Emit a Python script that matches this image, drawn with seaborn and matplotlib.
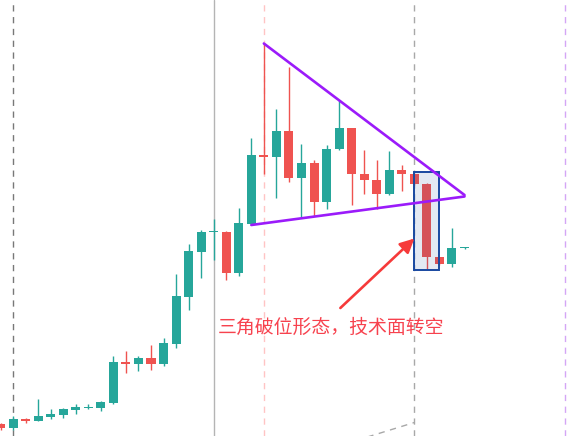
# Candlestick chart: triangle breakdown annotation
import matplotlib
matplotlib.use("Agg")
import matplotlib.pyplot as plt
from matplotlib.patches import Rectangle
import seaborn as sns
import pandas as pd

# -------------------------------------------------------
# DATA
# -------------------------------------------------------
opens = [10.25, 10.17, 10.34, 10.30, 10.38, 10.42, 10.52, 10.56, 10.56, 10.66,
         11.48, 11.45, 11.56, 11.45, 11.85, 12.79, 13.67, 14.07, 14.09, 13.27,
         14.24, 15.62, 15.57, 16.10, 15.15, 15.46, 14.67, 15.73, 16.16, 15.24,
         15.12, 14.83, 15.32, 15.24, 15.04, 13.58, 13.43, 13.75]
highs = [10.27, 10.40, 10.36, 10.74, 10.54, 10.56, 10.64, 10.64, 10.70, 11.60,
         11.70, 11.60, 11.82, 11.96, 13.24, 13.84, 14.12, 14.34, 14.11, 14.56,
         15.96, 17.85, 16.54, 17.38, 15.84, 15.52, 15.82, 16.72, 16.16, 15.72,
         15.52, 15.70, 15.42, 15.24, 15.07, 13.58, 14.16, 13.78]
lows = [10.12, 10.12, 10.27, 10.30, 10.34, 10.36, 10.44, 10.54, 10.50, 10.64,
        11.26, 11.30, 11.32, 11.40, 11.76, 12.52, 13.16, 13.52, 13.12, 13.20,
        14.24, 15.25, 14.77, 15.09, 14.37, 14.41, 14.55, 15.73, 14.63, 14.85,
        14.55, 14.83, 14.91, 15.03, 13.35, 13.43, 13.39, 13.75]
closes = [10.17, 10.34, 10.30, 10.40, 10.45, 10.54, 10.58, 10.58, 10.68, 11.48,
          11.45, 11.56, 11.45, 11.86, 12.80, 13.70, 14.08, 14.08, 13.27, 14.26,
          15.62, 15.57, 16.10, 15.15, 15.46, 14.67, 15.74, 16.16, 15.23, 15.11,
          14.83, 15.32, 15.23, 15.03, 13.57, 13.43, 13.76, 13.76]

# triangle trend lines (bar index, price)
upper_x = [21, 37]
upper_y = [17.85, 14.82]
lower_x = [20, 37]
lower_y = [14.22, 14.79]

# lower dashed trend line (mostly off-screen)
base_x = [29.0, 33.0]
base_y = [9.96, 10.27]

# highlighted breakdown zone
zone_x = [33, 35]
zone_y = [13.31, 15.29]

# arrow (tail -> head) and note
arrow_tail = (27.1, 12.56)
arrow_head = (33.0, 13.95)
note_text = "三角破位形态，技术面转空"
note_pos = (17.35, 12.17)

# vertical marker lines (bar index)
vline_idx = [1, 17, 21, 33, 45]

UP = "#26A69A"
DOWN = "#EF5350"

df = pd.DataFrame({"open": opens, "high": highs, "low": lows, "close": closes})
df["idx"] = range(len(df))
df["color"] = [UP if c >= o else DOWN for o, c in zip(df["open"], df["close"])]

# -------------------------------------------------------
# PLOT
# -------------------------------------------------------
sns.set_theme(style="white")
plt.rcParams["font.family"] = ["Noto Sans CJK SC", "DejaVu Sans"]

fig = plt.figure(figsize=(5.76, 4.36), dpi=100)
ax = fig.add_axes([0, 0, 1, 1])

# vertical markers
ax.axvline(vline_idx[0], color="#787878", lw=1.0, dashes=(4.5, 4), zorder=1)
ax.axvline(vline_idx[1], color="#B4B4B4", lw=1.0, zorder=1)
ax.axvline(vline_idx[2], color="#FFC4C4", lw=1.0, dashes=(4.5, 4), zorder=1)
ax.axvline(vline_idx[3], color="#A8A8A8", lw=1.0, dashes=(4.5, 4), zorder=1)
ax.axvline(vline_idx[4], color="#D4A6F5", lw=1.0, dashes=(4.5, 4), zorder=1)

# candles: wicks then bodies
ax.vlines(df["idx"], df["low"], df["high"], colors=df["color"], lw=1.0, zorder=2)
body_bottom = df[["open", "close"]].min(axis=1)
body_height = (df["close"] - df["open"]).abs().clip(lower=0.03)
ax.bar(df["idx"], body_height, bottom=body_bottom, width=0.72,
       color=df["color"], linewidth=0, zorder=3)

# breakdown zone box
ax.add_patch(Rectangle((zone_x[0], zone_y[0]), zone_x[1] - zone_x[0],
                       zone_y[1] - zone_y[0], facecolor="#1E50A0", alpha=0.12,
                       edgecolor="none", zorder=4))
ax.add_patch(Rectangle((zone_x[0], zone_y[0]), zone_x[1] - zone_x[0],
                       zone_y[1] - zone_y[0], facecolor="none",
                       edgecolor="#1848A0", lw=1.4, zorder=5))

# triangle lines
sns.lineplot(x=upper_x, y=upper_y, ax=ax, color="#9B1BFA", lw=1.9, zorder=6)
sns.lineplot(x=lower_x, y=lower_y, ax=ax, color="#9B1BFA", lw=1.9, zorder=6)
ax.plot(base_x, base_y, color="#A8A8A8", lw=1.0, dashes=(4.5, 4), zorder=1)

# arrow + note
ax.annotate("", xy=arrow_head, xytext=arrow_tail,
            arrowprops=dict(arrowstyle="-|>,head_length=0.7,head_width=0.35",
                            color="#F63A3A", lw=1.9, shrinkA=0, shrinkB=0),
            zorder=7)
ax.text(note_pos[0], note_pos[1], note_text, color="#F7424E", fontsize=13.6,
        ha="left", va="center", zorder=7)

ax.set_xlim(-0.04, 45.89)
ax.set_ylim(10.00, 18.72)
ax.set_xticks([])
ax.set_yticks([])
sns.despine(ax=ax, left=True, bottom=True)
ax.set_facecolor("white")

fig.savefig("out.png", dpi=100)
plt.close(fig)
